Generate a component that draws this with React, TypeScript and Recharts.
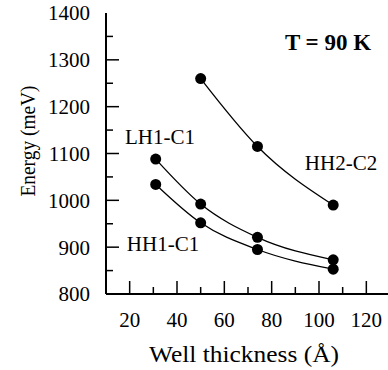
import React from 'react';
import { LineChart, Line, XAxis, YAxis, Customized } from 'recharts';

const thickness = [31, 50, 74, 106];
const lh1c1 = [1088, 992, 921, 873];
const hh1c1 = [1034, 952, 895, 853];
const hh2c2: (number | null)[] = [null, 1260, 1115, 990];

const xTicks = [20, 30, 40, 50, 60, 70, 80, 90, 100, 110, 120];
const yTicks = [800, 850, 900, 950, 1000, 1050, 1100, 1150, 1200, 1250, 1300, 1350, 1400];

const data = thickness.map((x, i) => ({ x, lh: lh1c1[i], hh1: hh1c1[i], hh2: hh2c2[i] }));

const serif = { fontFamily: 'Liberation Serif' };

const XTick = (props: any) => {
  const { x, y, payload } = props;
  const v = payload.value;
  const major = v % 20 === 0;
  return (
    <g>
      <line x1={x} x2={x} y1={y} y2={y - (major ? 13 : 7)} stroke="#000" strokeWidth={1.5} />
      {major && (
        <text x={x} y={y + 26} textAnchor="middle" dy="0.35em" fontSize={21} fill="#000" style={serif}>
          {v}
        </text>
      )}
    </g>
  );
};

const YTick = (props: any) => {
  const { x, y, payload } = props;
  const v = payload.value;
  const major = v % 100 === 0;
  const edge = v === 800 || v === 1400;
  return (
    <g>
      {!edge && <line x1={x} x2={x + (major ? 13 : 7)} y1={y} y2={y} stroke="#000" strokeWidth={1.5} />}
      {major && (
        <text x={x - 16} y={y} textAnchor="end" dy="0.35em" fontSize={21} fill="#000" style={serif}>
          {v}
        </text>
      )}
    </g>
  );
};

const Annotations = () => (
  <g fill="#000">
    <text x={328} y={42} textAnchor="middle" dy="0.35em" fontSize={23} fontWeight="bold" style={serif}>T = 90 K</text>
    <text x={160} y={137} textAnchor="middle" dy="0.35em" fontSize={21} style={serif}>LH1-C1</text>
    <text x={341} y={163} textAnchor="middle" dy="0.35em" fontSize={21} style={serif}>HH2-C2</text>
    <text x={163} y={244} textAnchor="middle" dy="0.35em" fontSize={21} style={serif}>HH1-C1</text>
    <text x={244} y={354} textAnchor="middle" dy="0.35em" fontSize={24} textLength={190} lengthAdjust="spacingAndGlyphs" style={serif}>Well thickness (Å)</text>
    <text x={28} y={141} textAnchor="middle" dy="0.35em" fontSize={21} textLength={111} lengthAdjust="spacingAndGlyphs" transform="rotate(-90 28 141)" style={serif}>Energy (meV)</text>
  </g>
);

export default function App() {
  return (
    <div style={{ position: 'absolute', left: 0, top: 0, width: 388, height: 370, overflow: 'hidden', background: '#fff' }}>
      <LineChart width={400} height={370} data={data} margin={{ top: 13, right: 10, bottom: 0, left: 0 }}>
        <XAxis
          dataKey="x"
          type="number"
          domain={[10, 130]}
          ticks={xTicks}
          interval={0}
          height={76}
          tickSize={0}
          tickMargin={0}
          tickLine={false}
          tick={<XTick />}
          axisLine={{ stroke: '#000', strokeWidth: 2 }}
        />
        <XAxis xAxisId="top" orientation="top" type="number" domain={[10, 130]} height={0} tick={false} tickLine={false} axisLine={{ stroke: '#000', strokeWidth: 2 }} />
        <YAxis
          type="number"
          domain={[800, 1400]}
          ticks={yTicks}
          interval={0}
          width={106}
          tickSize={0}
          tickMargin={0}
          tickLine={false}
          tick={<YTick />}
          axisLine={{ stroke: '#000', strokeWidth: 2 }}
        />
        <YAxis yAxisId="right" orientation="right" type="number" domain={[800, 1400]} width={0} tick={false} tickLine={false} axisLine={{ stroke: '#000', strokeWidth: 2 }} />
        <Line type="monotone" dataKey="lh" stroke="#000" strokeWidth={1.3} dot={{ r: 5.5, fill: '#000', stroke: '#000', strokeWidth: 0 }} isAnimationActive={false} />
        <Line type="monotone" dataKey="hh1" stroke="#000" strokeWidth={1.3} dot={{ r: 5.5, fill: '#000', stroke: '#000', strokeWidth: 0 }} isAnimationActive={false} />
        <Line type="monotone" dataKey="hh2" stroke="#000" strokeWidth={1.3} dot={{ r: 5.5, fill: '#000', stroke: '#000', strokeWidth: 0 }} isAnimationActive={false} />
        <Customized component={<Annotations />} />
      </LineChart>
    </div>
  );
}
